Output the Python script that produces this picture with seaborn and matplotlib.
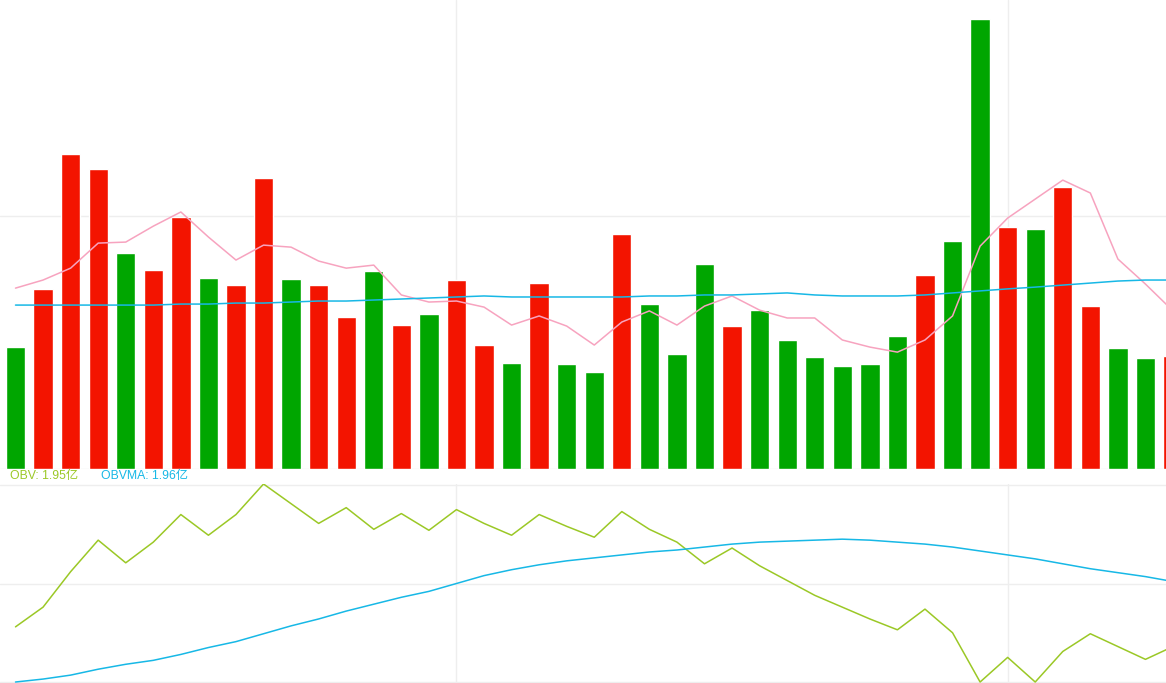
import numpy as np
import pandas as pd
import matplotlib
matplotlib.use("Agg")
import matplotlib.pyplot as plt
import seaborn as sns

# volume bars (units of the hidden left axis), up = red, down = green
volume = [482, 711, 1245, 1186, 854, 787, 996, 755, 727, 1150,
          751, 727, 601, 783, 569, 613, 747, 490, 419, 735,
          415, 383, 929, 652, 455, 810, 565, 628, 510, 443,
          407, 415, 526, 767, 901, 1779, 957, 949, 1115, 644,
          478, 439, 447]
direction = ["down", "up", "up", "up", "down", "up", "up", "down", "up", "up",
             "down", "up", "up", "down", "up", "down", "up", "up", "down", "up",
             "down", "down", "up", "down", "down", "down", "up", "down", "down", "down",
             "down", "down", "down", "up", "down", "down", "up", "down", "up", "up",
             "down", "down", "up"]
vol_ma_short = [715, 747, 794, 893, 897, 960, 1016, 917, 826, 885,
                877, 822, 794, 806, 688, 660, 664, 640, 569, 605,
                565, 490, 581, 625, 569, 644, 684, 628, 597, 597,
                510, 482, 462, 510, 605, 881, 992, 1067, 1142, 1091,
                830, 731, 625]
vol_ma_long = [648, 648, 648, 648, 648, 648, 652, 652, 656, 656,
               660, 664, 664, 668, 672, 676, 680, 684, 680, 680,
               680, 680, 680, 684, 684, 688, 688, 692, 696, 688,
               684, 684, 684, 688, 696, 704, 712, 719, 727, 735,
               743, 747, 747]

# OBV panel (亿)
obv = [1.956, 1.976, 2.012, 2.044, 2.021, 2.042, 2.070, 2.049, 2.070, 2.101,
       2.081, 2.061, 2.077, 2.055, 2.071, 2.054, 2.075, 2.061, 2.049, 2.070,
       2.058, 2.047, 2.073, 2.055, 2.042, 2.020, 2.036, 2.018, 2.003, 1.988,
       1.976, 1.964, 1.953, 1.974, 1.950, 1.900, 1.925, 1.900, 1.931, 1.949,
       1.936, 1.923, 1.936]
obvma = [1.900, 1.903, 1.907, 1.913, 1.918, 1.922, 1.928, 1.935, 1.941, 1.949,
         1.957, 1.964, 1.972, 1.979, 1.986, 1.992, 2.000, 2.008, 2.014, 2.019,
         2.023, 2.026, 2.029, 2.032, 2.034, 2.037, 2.040, 2.042, 2.043, 2.044,
         2.045, 2.044, 2.042, 2.040, 2.037, 2.033, 2.029, 2.025, 2.020, 2.015,
         2.011, 2.007, 2.002]
obv_label = "OBV: 1.95亿"
obvma_label = "OBVMA: 1.96亿"
date_ticks = [16, 36]

RED = "#F31400"
GREEN = "#00A600"
PINK = "#F7A3BF"
BLUE = "#17B8E6"
OBV_COLOR = "#9BC826"
GRID = "#EEEEEE"

sns.set_style("white")
plt.rcParams["font.family"] = ["Liberation Sans", "Noto Sans CJK SC", "DejaVu Sans"]

df = pd.DataFrame({
    "idx": np.arange(len(volume)),
    "volume": volume,
    "direction": direction,
    "ma_short": vol_ma_short,
    "ma_long": vol_ma_long,
    "obv": obv,
    "obvma": obvma,
})

fig = plt.figure(figsize=(11.66, 6.83), dpi=100)
ax_top = fig.add_axes([0, 1 - 469 / 683, 1, 469 / 683])
ax_bot = fig.add_axes([0, 0, 1, 199 / 683])

xlim = (-15.5 / 27.56, (1166 - 15.5) / 27.56)

# volume panel
sns.barplot(data=df, x="idx", y="volume", hue="direction",
            palette={"up": RED, "down": GREEN}, dodge=False,
            native_scale=True, width=0.70, saturation=1,
            legend=False, ax=ax_top)
sns.lineplot(data=df, x="idx", y="ma_short", color=PINK, lw=1.1, ax=ax_top)
sns.lineplot(data=df, x="idx", y="ma_long", color=BLUE, lw=1.1, ax=ax_top)
ax_top.set_xlim(*xlim)
ax_top.set_ylim(0, 1854)
ax_top.set_yticks([0, 1000])

# OBV panel
sns.lineplot(data=df, x="idx", y="obv", color=OBV_COLOR, lw=1.1, ax=ax_bot)
sns.lineplot(data=df, x="idx", y="obvma", color=BLUE, lw=1.1, ax=ax_bot)
ax_bot.set_xlim(*xlim)
ax_bot.set_ylim(1.899, 2.101)
ax_bot.set_yticks([1.9005, 2.0, 2.1])

for ax in (ax_top, ax_bot):
    ax.set_xticks(date_ticks)
    ax.grid(True, color=GRID, lw=1)
    ax.set_axisbelow(True)
    ax.set_xlabel("")
    ax.set_ylabel("")
    ax.tick_params(axis="x", length=0, labelbottom=False)
    ax.tick_params(axis="y", direction="in", length=2, color="#BBBBBB",
                   labelleft=False)
    for s in ax.spines.values():
        s.set_visible(False)

fig.text(10 / 1166, 1 - 476 / 683, obv_label, color=OBV_COLOR,
         fontsize=8.8, va="center", ha="left")
fig.text(101 / 1166, 1 - 476 / 683, obvma_label, color=BLUE,
         fontsize=8.8, va="center", ha="left")

fig.savefig("out.png", dpi=100)
